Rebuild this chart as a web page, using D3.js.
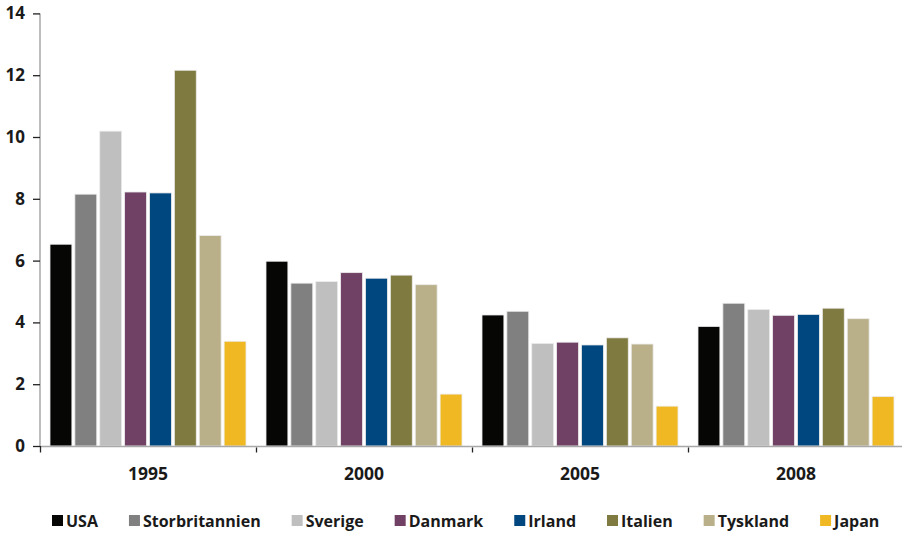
<!DOCTYPE html>
<html>
<head>
<meta charset="utf-8">
<script src="https://cdn.jsdelivr.net/npm/d3@7"></script>
<style>
  html, body { margin: 0; padding: 0; background: #fff; }
  svg { display: block; font-family: "Open Sans", "Noto Sans", sans-serif; font-weight: 700; }
</style>
</head>
<body>
<svg id="chart" width="902" height="533"></svg>
<script>
// Years on the x axis
const years = ["1995", "2000", "2005", "2008"];
// Countries (one bar each per year)
const countries = ["USA", "Storbritannien", "Sverige", "Danmark", "Irland", "Italien", "Tyskland", "Japan"];
// Values per country, in the order of the years
const usa            = [6.53, 5.98, 4.24, 3.87];
const storbritannien = [8.15, 5.27, 4.36, 4.62];
const sverige        = [10.19, 5.32, 3.32, 4.42];
const danmark        = [8.22, 5.61, 3.36, 4.23];
const irland         = [8.19, 5.43, 3.27, 4.26];
const italien        = [12.16, 5.53, 3.50, 4.46];
const tyskland       = [6.81, 5.22, 3.30, 4.12];
const japan          = [3.39, 1.68, 1.29, 1.60];
const yTicks = [0, 2, 4, 6, 8, 10, 12, 14];

const seriesValues = [usa, storbritannien, sverige, danmark, irland, italien, tyskland, japan];
const colors = ["#060605", "#808080", "#bfbfbf", "#704165", "#00467f", "#7f7a3f", "#b9b08a", "#f0b923"];

const svg = d3.select("#chart");
const plotLeft = 40, plotTop = 13.4, plotBottom = 446, groupW = 216;

const x0 = d3.scaleBand().domain(years).range([plotLeft, plotLeft + groupW * years.length]).padding(0);
const x1 = d3.scaleBand().domain(countries).range([10, groupW - 10]).paddingInner(0.12).paddingOuter(0);
const y = d3.scaleLinear().domain([0, 14]).range([plotBottom, plotTop]);
const color = d3.scaleOrdinal().domain(countries).range(colors);

// Bars
const rows = [];
years.forEach((yr, i) => countries.forEach((c, j) => rows.push({ year: yr, country: c, value: seriesValues[j][i] })));

svg.append("g").selectAll("rect").data(rows).join("rect")
  .attr("x", d => x0(d.year) + x1(d.country))
  .attr("y", d => y(d.value))
  .attr("width", x1.bandwidth())
  .attr("height", d => y(0) - y(d.value))
  .attr("fill", d => color(d.country))
  .attr("stroke", "#ececec")
  .attr("stroke-width", 0.8);

// Y axis
const yAxis = svg.append("g").attr("transform", `translate(${plotLeft},0)`)
  .call(d3.axisLeft(y).tickValues(yTicks).tickSize(7).tickPadding(8).tickFormat(d3.format("d")));
yAxis.attr("font-size", null).attr("font-family", null);
yAxis.select(".domain").attr("stroke", "#bdbdbd").attr("stroke-width", 2).attr("d", `M0,${plotTop}V${plotBottom}`);
yAxis.selectAll(".tick line").attr("stroke", "#222").attr("stroke-width", 1.3);
yAxis.selectAll(".tick text").attr("fill", "#1a1a1a").style("font-size", "17px").style("font-weight", 700);

// X axis: baseline, group separator ticks and year labels
const xAxis = svg.append("g");
xAxis.append("line").attr("x1", plotLeft).attr("x2", plotLeft + groupW * years.length)
  .attr("y1", plotBottom + 0.5).attr("y2", plotBottom + 0.5).attr("stroke", "#a8a8a8").attr("stroke-width", 1.6);
const seps = years.map(yr => x0(yr)).concat([x0(years[years.length - 1]) + x0.bandwidth()]);
xAxis.selectAll("line.sep").data(seps).join("line").attr("class", "sep")
  .attr("x1", d => d + 0.5).attr("x2", d => d + 0.5)
  .attr("y1", (d, i) => i === 0 ? plotBottom : plotBottom + 1.5).attr("y2", plotBottom + 6.5)
  .attr("stroke", "#222").attr("stroke-width", 1.3);
xAxis.selectAll("text").data(years).join("text")
  .attr("x", d => x0(d) + x0.bandwidth() / 2)
  .attr("y", 479.5)
  .attr("text-anchor", "middle")
  .attr("fill", "#1a1a1a")
  .style("font-size", "17.5px")
  .text(d => d);

// Legend laid out left to right
const legend = svg.append("g");
let lx = 52;
countries.forEach((c, i) => {
  const g = legend.append("g");
  g.append("rect").attr("x", lx).attr("y", 515).attr("width", 11).attr("height", 11).attr("fill", color(c));
  const t = g.append("text").attr("x", lx + 14).attr("y", 527).attr("fill", "#1a1a1a")
    .style("font-size", "16px").text(c);
  lx += 14 + t.node().getComputedTextLength() + 31;
});
</script>
</body>
</html>
